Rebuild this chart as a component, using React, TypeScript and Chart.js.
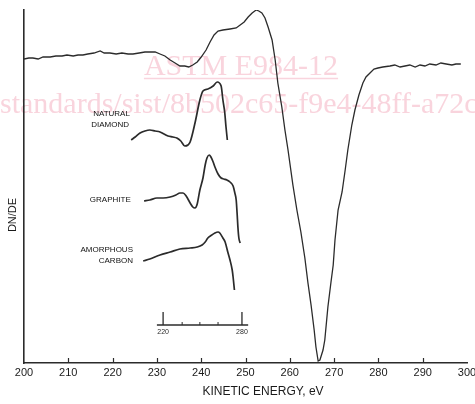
import React, { useEffect, useRef } from 'react';
import { Chart, registerables } from 'chart.js';

Chart.register(...registerables);

// ---- main Auger spectrum (kinetic energy, eV / dN/dE arbitrary units) ----
const mainEnergy = [
  200.0, 201.1, 202.0, 203.2, 204.3, 205.9, 207.2, 208.6, 209.7, 211.1,
  212.2, 213.3, 214.4, 215.8, 217.2, 218.1, 219.4, 220.8, 222.1, 223.5,
  224.6, 226.0, 227.3, 228.4, 229.6, 230.7, 231.8, 233.0, 234.1, 235.2,
  236.3, 237.2, 238.1, 239.1, 240.0, 241.1, 242.0, 242.9, 243.8, 244.9,
  246.5, 247.9, 248.8, 249.7, 250.6, 251.5, 252.4, 253.0, 253.7, 254.4,
  255.1, 256.0, 256.7, 257.3, 258.2, 258.9, 259.6, 260.7, 261.6, 262.5,
  263.4, 264.1, 264.8, 265.5, 265.9, 266.4, 266.8, 267.5, 267.9, 268.6,
  269.3, 269.8, 270.2, 270.9, 271.8, 272.5, 273.1, 274.0, 274.7, 275.6,
  276.5, 277.2, 278.1, 279.0, 279.9, 281.0, 282.6, 283.7, 284.9, 286.0,
  287.1, 288.3, 289.4, 290.5, 291.6, 293.0, 294.1, 295.3, 296.6, 297.5,
  298.6,
];
const mainSignal = [
  304, 305, 305, 304, 306, 306, 307, 307, 308, 307,
  308, 308, 309, 310, 312, 310, 310, 309, 310, 309,
  309, 310, 311, 311, 311, 309, 307, 303, 300, 297,
  297, 296, 298, 301, 306, 313, 321, 328, 332, 333,
  334, 335, 338, 341, 346, 350, 353, 352, 350, 345,
  336, 323, 303, 280, 256, 233, 213, 178, 153, 131,
  105, 80, 58, 33, 16, 2, 3, 13, 23, 56,
  81, 98, 123, 153, 171, 193, 213, 238, 253, 268,
  280, 286, 290, 294, 295, 296, 297, 298, 296, 297,
  298, 296, 298, 297, 299, 298, 300, 299, 298, 299,
  299,
];

// ---- inset curves (plotted on the main energy axis) ----
const diamondEnergy = [
  224.2, 225.1, 226.2, 227.3, 228.4, 229.6, 230.7, 231.6, 232.5, 233.6,
  234.5, 235.4, 236.3, 237.0, 237.5, 238.6, 239.7, 240.4, 241.5, 242.7,
  243.6, 244.5, 244.9, 245.3, 245.6, 245.9,
];
const diamondSignal = [
  223, 226, 230, 232, 233, 232, 231, 229, 227, 226,
  225, 222, 217, 218, 221, 240, 263, 272, 274, 277,
  281, 277, 263, 251, 236, 223,
];
const graphiteEnergy = [
  227.1, 228.4, 230.0, 231.4, 233.0, 234.3, 235.2, 235.9, 236.6, 237.5,
  238.1, 238.6, 239.1, 239.7, 240.4, 240.9, 241.3, 241.8, 242.2, 242.7,
  243.1, 243.8, 244.5, 245.1, 245.8, 246.5, 247.2, 247.6, 247.9, 248.1,
  248.3, 248.5, 248.8,
];
const graphiteSignal = [
  162, 163, 165, 165, 166, 168, 170, 170, 167, 160,
  156, 155, 159, 173, 185, 198, 205, 208, 206, 201,
  196, 189, 185, 184, 183, 181, 177, 170, 163, 150,
  135, 125, 120,
];
const amorphousEnergy = [
  226.9, 228.4, 230.7, 233.0, 235.2, 237.5, 239.1, 240.2, 240.9, 241.5,
  242.4, 243.1, 243.8, 244.2, 244.9, 245.4, 246.0, 246.5, 247.0, 247.2,
  247.5,
];
const amorphousSignal = [
  102, 104, 108, 111, 114, 115, 116, 118, 121, 125,
  128, 130, 131, 130, 125, 121, 111, 103, 93, 86,
  73,
];

// ---- inset energy scale (220 .. 280 eV) ----
const insetAxisEnergy = [230.0, 250.6];
const insetAxisSignal = 38;
const insetMajorTickEnergy = [231.4, 249.2];
const insetMajorTickLabels = ['220', '280'];
const insetMinorTickEnergy = [235.7, 239.7, 243.8];

// ---- texts ----
const xAxisTitle = 'KINETIC ENERGY, eV';
const yAxisTitle = 'DN/DE';
const curveLabels = [
  { text: 'NATURAL', energy: 223.9, signal: 249.5 },
  { text: 'DIAMOND', energy: 223.7, signal: 238.5 },
  { text: 'GRAPHITE', energy: 224.1, signal: 163 },
  { text: 'AMORPHOUS', energy: 224.6, signal: 113 },
  { text: 'CARBON', energy: 224.6, signal: 102 },
];
const watermarkTitle = 'ASTM E984-12';
const watermarkLink = 'standards/sist/8b502c65-f9e4-48ff-a72c';

const pts = (xs: number[], ys: number[]) => xs.map((x, i) => ({ x, y: ys[i] }));

const SANS = '"Liberation Sans", Arial, sans-serif';
const SERIF = '"Liberation Serif", "Times New Roman", serif';
const INK = '#2b2b2b';
const PINK = 'rgb(249,212,221)';

const decorPlugin = {
  id: 'decor',
  beforeDraw(chart: any) {
    const ctx = chart.ctx;
    ctx.save();
    ctx.fillStyle = PINK;
    ctx.strokeStyle = PINK;
    ctx.font = `30px ${SERIF}`;
    ctx.textBaseline = 'alphabetic';
    ctx.textAlign = 'center';
    ctx.fillText(watermarkTitle, 241, 75);
    const w = ctx.measureText(watermarkTitle).width;
    ctx.lineWidth = 1.3;
    ctx.beginPath();
    ctx.moveTo(241 - w / 2, 78.5);
    ctx.lineTo(241 + w / 2, 78.5);
    ctx.stroke();
    ctx.textAlign = 'left';
    ctx.fillText(watermarkLink, 0, 113);
    ctx.restore();
  },
  afterDraw(chart: any) {
    const ctx = chart.ctx;
    const xs = chart.scales.x;
    const ys = chart.scales.y;
    const area = chart.chartArea;
    ctx.save();
    ctx.strokeStyle = INK;
    ctx.fillStyle = INK;

    // inward tick marks on the energy axis
    ctx.lineWidth = 1.2;
    xs.ticks.forEach((t: any) => {
      if (t.value <= xs.min || t.value >= xs.max) return;
      const px = Math.round(xs.getPixelForValue(t.value)) + 0.5;
      ctx.beginPath();
      ctx.moveTo(px, area.bottom);
      ctx.lineTo(px, area.bottom - 5);
      ctx.stroke();
    });

    // inset energy scale
    const iy = ys.getPixelForValue(insetAxisSignal);
    ctx.lineWidth = 1.3;
    ctx.beginPath();
    ctx.moveTo(xs.getPixelForValue(insetAxisEnergy[0]), iy);
    ctx.lineTo(xs.getPixelForValue(insetAxisEnergy[1]), iy);
    ctx.stroke();
    ctx.font = `7px ${SANS}`;
    ctx.textAlign = 'center';
    ctx.textBaseline = 'middle';
    insetMajorTickEnergy.forEach((e, i) => {
      const px = xs.getPixelForValue(e);
      ctx.beginPath();
      ctx.moveTo(px, iy);
      ctx.lineTo(px, iy - 13);
      ctx.stroke();
      ctx.fillText(insetMajorTickLabels[i], px, iy + 7);
    });
    ctx.lineWidth = 1;
    insetMinorTickEnergy.forEach((e) => {
      const px = xs.getPixelForValue(e);
      ctx.beginPath();
      ctx.moveTo(px, iy);
      ctx.lineTo(px, iy - 3);
      ctx.stroke();
    });

    // curve labels
    ctx.fillStyle = '#111';
    ctx.font = `8px ${SANS}`;
    ctx.textAlign = 'right';
    ctx.textBaseline = 'middle';
    curveLabels.forEach((l) => {
      ctx.fillText(l.text, xs.getPixelForValue(l.energy), ys.getPixelForValue(l.signal));
    });

    // axis titles
    ctx.fillStyle = '#1a1a1a';
    ctx.font = `12px ${SANS}`;
    ctx.textAlign = 'center';
    ctx.fillText(xAxisTitle, 263, 392);
    ctx.save();
    ctx.translate(13, 215);
    ctx.rotate(-Math.PI / 2);
    ctx.font = `11px ${SANS}`;
    ctx.fillText(yAxisTitle, 0, 0);
    ctx.restore();

    ctx.restore();
  },
};

export default function App() {
  const canvasRef = useRef<HTMLCanvasElement | null>(null);

  useEffect(() => {
    if (!canvasRef.current) return;
    const lineBase = {
      borderColor: INK,
      pointRadius: 0,
      fill: false,
    };
    const chart = new Chart(canvasRef.current, {
      type: 'line',
      data: {
        datasets: [
          { ...lineBase, label: 'Spectrum', data: pts(mainEnergy, mainSignal), borderWidth: 1.3, tension: 0 },
          { ...lineBase, label: 'Natural diamond', data: pts(diamondEnergy, diamondSignal), borderWidth: 1.7, cubicInterpolationMode: 'monotone' },
          { ...lineBase, label: 'Graphite', data: pts(graphiteEnergy, graphiteSignal), borderWidth: 1.7, cubicInterpolationMode: 'monotone' },
          { ...lineBase, label: 'Amorphous carbon', data: pts(amorphousEnergy, amorphousSignal), borderWidth: 1.7, cubicInterpolationMode: 'monotone' },
        ],
      },
      options: {
        animation: false,
        responsive: true,
        maintainAspectRatio: false,
        layout: { padding: { top: 10, right: 8, left: 0, bottom: 0 } },
        plugins: {
          legend: { display: false },
          tooltip: { enabled: false },
        },
        scales: {
          x: {
            type: 'linear',
            min: 200,
            max: 300,
            grid: { display: false, drawTicks: false },
            border: { display: true, color: INK, width: 1.6 },
            ticks: {
              stepSize: 10,
              autoSkip: false,
              maxRotation: 0,
              padding: 3,
              color: '#1a1a1a',
              font: { family: SANS, size: 11 },
            },
            afterFit: (s: any) => {
              s.height = 41;
              s.paddingLeft = 0;
              s.paddingRight = 0;
            },
          },
          y: {
            type: 'linear',
            min: 0,
            max: 353,
            grid: { display: false, drawTicks: false },
            border: { display: true, color: INK, width: 1.6 },
            ticks: { display: false },
            afterFit: (s: any) => {
              s.width = 24;
              s.paddingTop = 0;
              s.paddingBottom = 0;
            },
          },
        },
      },
      plugins: [decorPlugin],
    } as any);
    return () => chart.destroy();
  }, []);

  return (
    <div style={{ position: 'fixed', left: 0, top: 0, width: 475, height: 404, background: '#fff' }}>
      <canvas ref={canvasRef} />
    </div>
  );
}
